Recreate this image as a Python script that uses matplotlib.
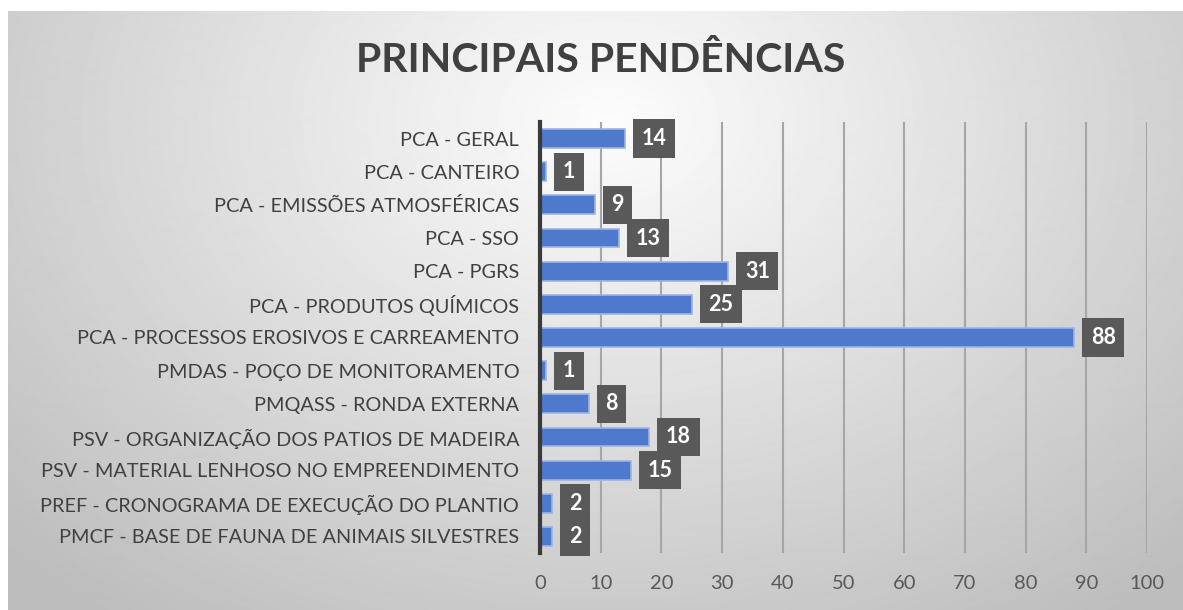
import numpy as np
import matplotlib
matplotlib.use('Agg')
import matplotlib.pyplot as plt

# Categories (top to bottom) and counts
categories = [
    'PCA - GERAL',
    'PCA - CANTEIRO',
    'PCA - EMISSÕES ATMOSFÉRICAS',
    'PCA - SSO',
    'PCA - PGRS',
    'PCA - PRODUTOS QUÍMICOS',
    'PCA - PROCESSOS EROSIVOS E CARREAMENTO',
    'PMDAS - POÇO DE MONITORAMENTO',
    'PMQASS - RONDA EXTERNA',
    'PSV - ORGANIZAÇÃO DOS PATIOS DE MADEIRA',
    'PSV - MATERIAL LENHOSO NO EMPREENDIMENTO',
    'PREF - CRONOGRAMA DE EXECUÇÃO DO PLANTIO',
    'PMCF - BASE DE FAUNA DE ANIMAIS SILVESTRES',
]
counts = [14, 1, 9, 13, 31, 25, 88, 1, 8, 18, 15, 2, 2]
x_ticks = list(range(0, 101, 10))

plt.rcParams['font.family'] = ['Lato', 'DejaVu Sans']

W, H = 1183, 610
fig = plt.figure(figsize=(W / 100, H / 100), dpi=100)
fig.patch.set_facecolor('white')

# ── background: radial grey gradient ──
bg = fig.add_axes([8 / W, 0, 1 - 8 / W, 1 - 11 / H], zorder=-5)
yy, xx = np.mgrid[0:600, 0:1175]
r = np.sqrt(((xx - 600) / 700.0) ** 2 + ((yy - 110) / 520.0) ** 2)
shade = np.clip(0.99 - 0.21 * r, 0.74, 1.0)
bg.imshow(shade, cmap='gray', vmin=0, vmax=1, aspect='auto', interpolation='bilinear')
bg.axis('off')

# ── main axes ──
ax = fig.add_axes([540 / W, 1 - 553 / H, (1147 - 540) / W, (553 - 122) / H])
ax.set_facecolor('none')

y = np.arange(len(categories))
ax.barh(y, counts, height=0.57, color='#4F79CC', edgecolor='#9DB4E3',
        linewidth=1.2, zorder=3)

for yi, v in zip(y, counts):
    ax.annotate(str(v), xy=(v, yi), xytext=(12, 0), textcoords='offset points',
                ha='left', va='center', color='white',
                fontsize=15.5, fontweight='bold', zorder=5,
                bbox=dict(boxstyle='square,pad=0.4', facecolor='#595959',
                          edgecolor='none'))

ax.set_xlim(0, 100)
ax.set_ylim(len(categories) - 0.5, -0.5)
ax.set_xticks(x_ticks)
ax.set_yticks(y)
ax.set_yticklabels(categories)
ax.tick_params(axis='y', length=0, pad=15, labelsize=14.3, labelcolor='#404040')
ax.tick_params(axis='x', length=0, pad=16, labelsize=14.5, labelcolor='#595959')

ax.grid(axis='x', color='#A6A6A6', linewidth=1.5, zorder=1)
ax.grid(axis='y', visible=False)
for side in ['top', 'right', 'bottom']:
    ax.spines[side].set_visible(False)
ax.spines['left'].set_color('#3A3A3A')
ax.spines['left'].set_linewidth(3)
ax.spines['left'].set_zorder(4)

fig.text(601 / W, 1 - 60 / H, 'PRINCIPAIS PENDÊNCIAS', ha='center',
         va='center', fontsize=29.5, fontweight='bold', color='#404040')

fig.savefig('out.png', dpi=100, facecolor='white')
